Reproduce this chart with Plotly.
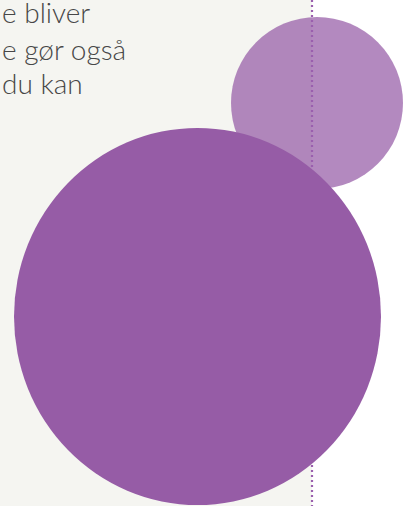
import plotly.graph_objects as go

# ---- data ----
circle_names = ["small", "large"]
circle_cx = [317.0, 197.5]
circle_cy = [103.0, 316.5]
circle_rx = [86.0, 183.5]
circle_ry = [86.0, 188.5]
circle_colors = ["rgba(150,92,166,0.72)", "rgb(150,92,166)"]

text_lines = ["e bliver", "e gør også", "du kan"]
text_baselines = [24, 61, 95]

divider_x = 312
panel_w = 406
panel_h = 506

fig = go.Figure()

# invisible trace to establish axes
fig.add_trace(go.Scatter(x=[0, panel_w], y=[0, panel_h], mode="markers",
                         marker=dict(opacity=0), hoverinfo="skip", showlegend=False))

shapes = []
# grey background panel
shapes.append(dict(type="rect", xref="x", yref="y", x0=0, x1=divider_x, y0=0, y1=panel_h,
                   fillcolor="#f5f5f1", line=dict(width=0), layer="below"))
# small circle
i = 0
shapes.append(dict(type="circle", xref="x", yref="y",
                   x0=circle_cx[i] - circle_rx[i], x1=circle_cx[i] + circle_rx[i],
                   y0=circle_cy[i] - circle_ry[i], y1=circle_cy[i] + circle_ry[i],
                   fillcolor=circle_colors[i], line=dict(width=0), layer="above"))
# dotted divider
shapes.append(dict(type="line", xref="x", yref="y", x0=divider_x, x1=divider_x, y0=0, y1=panel_h,
                   line=dict(color="#9a5fae", width=2.2, dash="2px,3px"), layer="above"))
# large circle
i = 1
shapes.append(dict(type="circle", xref="x", yref="y",
                   x0=circle_cx[i] - circle_rx[i], x1=circle_cx[i] + circle_rx[i],
                   y0=circle_cy[i] - circle_ry[i], y1=circle_cy[i] + circle_ry[i],
                   fillcolor=circle_colors[i], line=dict(width=0), layer="above"))

annotations = []
for t, b in zip(text_lines, text_baselines):
    annotations.append(dict(text=t, xref="paper", yref="paper", x=0,
                            y=1 - (b + 7) / panel_h,
                            xanchor="left", yanchor="bottom", showarrow=False,
                            font=dict(family="Lato", size=28, weight=300, color="#474747")))

fig.update_layout(
    width=panel_w, height=panel_h,
    margin=dict(l=0, r=0, t=0, b=0),
    paper_bgcolor="white", plot_bgcolor="white",
    xaxis=dict(range=[0, panel_w], visible=False, fixedrange=True),
    yaxis=dict(range=[panel_h, 0], visible=False, fixedrange=True),
    shapes=shapes, annotations=annotations, showlegend=False,
)

fig.write_html("out.html", config={"displayModeBar": False},
               post_script="document.body.style.margin='0';document.body.style.overflow='hidden';")
